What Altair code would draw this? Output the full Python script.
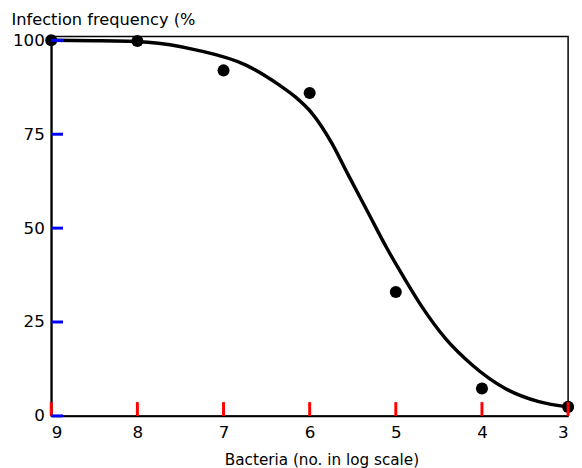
import altair as alt
import pandas as pd

# observed data points
obs_x = [9, 8, 7, 6, 5, 4, 3]
obs_y = [100, 99.8, 92, 86, 33, 7.3, 2.4]

# fitted curve
curve_x = [9.0, 8.5, 7.88, 7.31, 6.74, 6.36, 6.17, 5.97, 5.74, 5.56, 5.33, 5.10, 4.91,
           4.68, 4.42, 4.11, 3.73, 3.34, 3.0]
curve_y = [100, 99.9, 99.5, 97.4, 93.4, 88.2, 85.0, 80.5, 72.5, 64.5, 54.5, 44.5, 37.0,
           28.5, 20.5, 13.5, 7.3, 3.8, 2.4]

x_ticks = [9, 8, 7, 6, 5, 4, 3]
y_ticks = [0, 25, 50, 75, 100]

FONT = "DejaVu Sans"
W, H = 526, 386

obs = pd.DataFrame({"x": obs_x, "y": obs_y})
curve = pd.DataFrame({"x": curve_x, "y": curve_y})
xt = pd.DataFrame({"tx": x_ticks})
yt = pd.DataFrame({"ty": y_ticks})

xscale = alt.Scale(domain=[9, 3], nice=False, zero=False)
yscale = alt.Scale(domain=[0, 101], nice=False, zero=False)

xaxis = alt.Axis(values=x_ticks, format="d", ticks=False, labelPadding=9, labelFontSize=17,
                 labelFont=FONT, labelColor="black", domainColor="black", domainWidth=2,
                 grid=False, title="Bacteria (no. in log scale)", titleFont=FONT,
                 titleFontSize=15.5, titleFontWeight="normal", titleColor="black",
                 titlePadding=12, titleX=275)
yaxis = alt.Axis(values=y_ticks, format="d", ticks=False, labelPadding=7, labelFontSize=17,
                 labelFont=FONT, labelColor="black", domainColor="black", domainWidth=2,
                 grid=False, title="Infection frequency (%", titleFont=FONT, titleFontSize=16.5,
                 titleFontWeight="normal", titleColor="black", titleAngle=0, titleAlign="left",
                 titleBaseline="alphabetic", titleX=-41, titleY=-12)

line = alt.Chart(curve).mark_line(color="black", strokeWidth=3.5, interpolate="monotone").encode(
    x=alt.X("x:Q", scale=xscale, axis=xaxis),
    y=alt.Y("y:Q", scale=yscale, axis=yaxis),
)
pts = alt.Chart(obs).mark_circle(color="black", opacity=1, size=150).encode(
    x=alt.X("x:Q", scale=xscale),
    y=alt.Y("y:Q", scale=yscale),
)
# inward ticks (x axis): vertical rules rising 12 px from the bottom edge
xtick = alt.Chart(xt).mark_rule(color="red", strokeWidth=3).encode(
    x=alt.X("tx:Q", scale=xscale),
    y=alt.value(H),
    y2=alt.value(H - 14),
)
# inward ticks (y axis): horizontal rules reaching 10 px into the plot
ytick = alt.Chart(yt).mark_rule(color="blue", strokeWidth=3).encode(
    y=alt.Y("ty:Q", scale=yscale),
    x=alt.value(0),
    x2=alt.value(12),
)

chart = alt.layer(line, pts, xtick, ytick).properties(
    width=W, height=H,
    autosize=alt.AutoSizeParams(type="none"),
    padding={"left": 44, "top": 25, "right": 6, "bottom": 52},
    background="white",
).configure_view(stroke="black", strokeWidth=1.5)

chart.save("out.html", embed_options={"renderer": "svg", "actions": False})
